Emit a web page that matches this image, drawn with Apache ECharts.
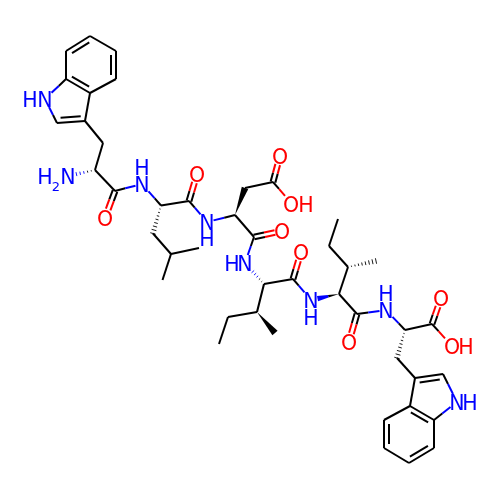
<!DOCTYPE html>
<html><head><meta charset="utf-8">
<style>html,body{margin:0;padding:0;background:#fff;overflow:hidden}#c{width:500px;height:500px}</style>
<script src="https://cdn.jsdelivr.net/npm/echarts@6/dist/echarts.min.js"></script>
</head><body><div id="c"></div>
<script>
// atoms: picture coordinates and element
const atomX=[90,66,66,90,116,116,45,57,85,103,95,68,115,105,142,161,153,171,199,162.5,189,197,207,235,245,273,280,292,254,282,245,264,257,228,219,275,293,301,311,339,348,329,338,376,357,349,386,405,432,441,452,397,415,443,457,434,410,384,384,409,434];
const atomY=[36,51,79,93,79,51,99,123,121,143,170,176,191,218,184,205.5,233.5,254,248,280,201,174,222,215,188,182,156,204,237,231,263,284,312,317,344,333,279,252,300,294,267,246,219,261,314,342,310,330,324,298,346,358,378,374,402,420,406,420,448,463,448];
const atomEl="CCCCCCNCCCCNCONCCCCCCONCCCOOCONCCCCCCONCCCCCCONCCOOCCCNCCCCCC".split("");
// bonds: from, to, kind (s single, d double, r ring double, w wedge, h hashed)
const bondFrom=[0,5,4,3,2,1,2,6,8,3,8,9,10,10,12,12,14,15,16,17,17,15,20,20,22,23,24,25,25,23,28,28,31,31,32,33,32,31,36,36,39,39,40,41,40,39,44,44,46,47,48,48,47,51,52,53,54,56,56,55,60,59,58,57];
const bondTo=[5,4,3,2,1,0,6,7,7,8,9,10,11,12,13,14,15,16,17,18,19,20,21,22,23,24,25,26,27,28,29,30,30,32,33,34,35,36,37,38,38,40,41,42,43,44,45,46,47,48,49,50,51,52,53,54,55,55,52,60,59,58,57,56];
const bondKind=["s","r","s","r","s","r","s","s","r","s","s","s","h","s","d","s","s","h","s","s","s","s","d","s","s","w","s","d","s","s","d","s","h","s","s","s","w","s","d","s","w","s","s","s","h","s","d","s","s","s","d","s","h","s","r","s","s","r","s","s","r","s","r","s"];
// atom labels
const labelText=["H","N","H","2","N","O","N","H","O","N","H","O","O","H","O","H","N","O","N","H","O","N","H","O","O","H","N","H"];
const labelEl=["N","N","N","N","N","O","N","N","O","N","N","O","O","O","O","N","N","O","N","N","O","N","N","O","O","O","N","N"];
const labelX=[30,45,45,56,68,105,142,142,197,207,207,280,291,306,282,232,245,301,311,311,349,386,386,441,452,466,457,470];
const labelY=[101.5,101.5,178.5,187.5,178.5,220.5,186.5,169.5,176.5,224.5,240.5,158.5,206.5,206.5,233.5,265.5,265.5,254.5,302.5,319.5,344.5,312.5,295.5,300.5,348.5,348.5,404.5,404.5];
const labelSub=[0,0,0,1,0,0,0,0,0,0,0,0,0,0,0,0,0,0,0,0,0,0,0,0,0,0,0,0];

const colors={C:"#000000",N:"#0000FF",O:"#FF0000"};
const boxes={C:null,N:[6.5,8],O:[7,8.5]};
function trim(a,b){ // fraction of the bond a-b hidden by the label box at a
  const box=boxes[atomEl[a]];
  if(!box)return 0;
  const dx=Math.abs(atomX[b]-atomX[a]),dy=Math.abs(atomY[b]-atomY[a]);
  return Math.min(dx?box[0]/dx:9,dy?box[1]/dy:9);
}
function renderBond(params,api){
  const i=api.value(0),a=bondFrom[i],b=bondTo[i],k=bondKind[i];
  const pa=api.coord([atomX[a],atomY[a]]),pb=api.coord([atomX[b],atomY[b]]);
  const ca=colors[atomEl[a]],cb=colors[atomEl[b]];
  const ta=trim(a,b),tb=trim(b,a);
  const mid=(ta+1-tb)/2;
  const dx=pb[0]-pa[0],dy=pb[1]-pa[1],len=Math.hypot(dx,dy),nx=-dy/len,ny=dx/len;
  const at=(t,o)=>[pa[0]+dx*t+nx*(o||0),pa[1]+dy*t+ny*(o||0)];
  const kids=[];
  const seg=(p,q,c,w)=>kids.push({type:"line",shape:{x1:p[0],y1:p[1],x2:q[0],y2:q[1]},style:{stroke:c,lineWidth:w||2,lineCap:"butt"}});
  const two=(t0,t1,o)=>{
    if(ca===cb){seg(at(t0,o),at(t1,o),ca);return;}
    seg(at(t0,o),at(mid,o),ca);seg(at(mid,o),at(t1,o),cb);
  };
  if(k==="s") two(ta,1-tb,0);
  else if(k==="d"){two(ta,1-tb,-2.4);two(ta,1-tb,2.4);}
  else if(k==="r"){two(ta,1-tb,0);two(Math.max(ta,.14),1-Math.max(tb,.14),5);}
  else if(k==="w"){
    const half=3.4,end=1-tb;
    const poly=(t0,t1,c)=>kids.push({type:"polygon",shape:{points:[at(t0,half*t0),at(t1,half*t1),at(t1,-half*t1),at(t0,-half*t0)]},style:{fill:c}});
    if(ca===cb)poly(0,end,ca);else{poly(0,mid,ca);poly(mid,end,cb);}
  } else if(k==="h"){
    const end=1-tb-(tb?2/len:0),steps=Math.round(len*end/3.5);
    for(let s=1;s<=steps;s++){
      const t=end*s/steps,h=.3+2.5*t;
      seg(at(t,h),at(t,-h),t<mid?ca:cb,.9);
    }
  }
  return {type:"group",children:kids};
}
function renderLabel(params,api){
  const i=api.value(0),p=api.coord([labelX[i],labelY[i]]);
  return {type:"text",x:p[0],y:p[1],style:{text:labelText[i],fill:colors[labelEl[i]],font:(labelSub[i]?"13px":"20.5px")+" 'DejaVu Sans'",textAlign:"center",textVerticalAlign:"middle"}};
}
const chart=echarts.init(document.getElementById("c"),null,{renderer:"canvas"});
chart.setOption({
  animation:false,backgroundColor:"#ffffff",
  grid:{left:0,right:0,top:0,bottom:0},
  xAxis:{type:"value",min:0,max:500,show:false},
  yAxis:{type:"value",min:0,max:500,inverse:true,show:false},
  tooltip:{show:false},
  series:[
    {type:"custom",coordinateSystem:"cartesian2d",silent:true,clip:false,data:bondFrom.map((_,i)=>[i]),encode:{x:[],y:[]},renderItem:renderBond},
    {type:"custom",coordinateSystem:"cartesian2d",silent:true,clip:false,data:labelText.map((_,i)=>[i]),encode:{x:[],y:[]},renderItem:renderLabel}
  ]
});
</script></body></html>
